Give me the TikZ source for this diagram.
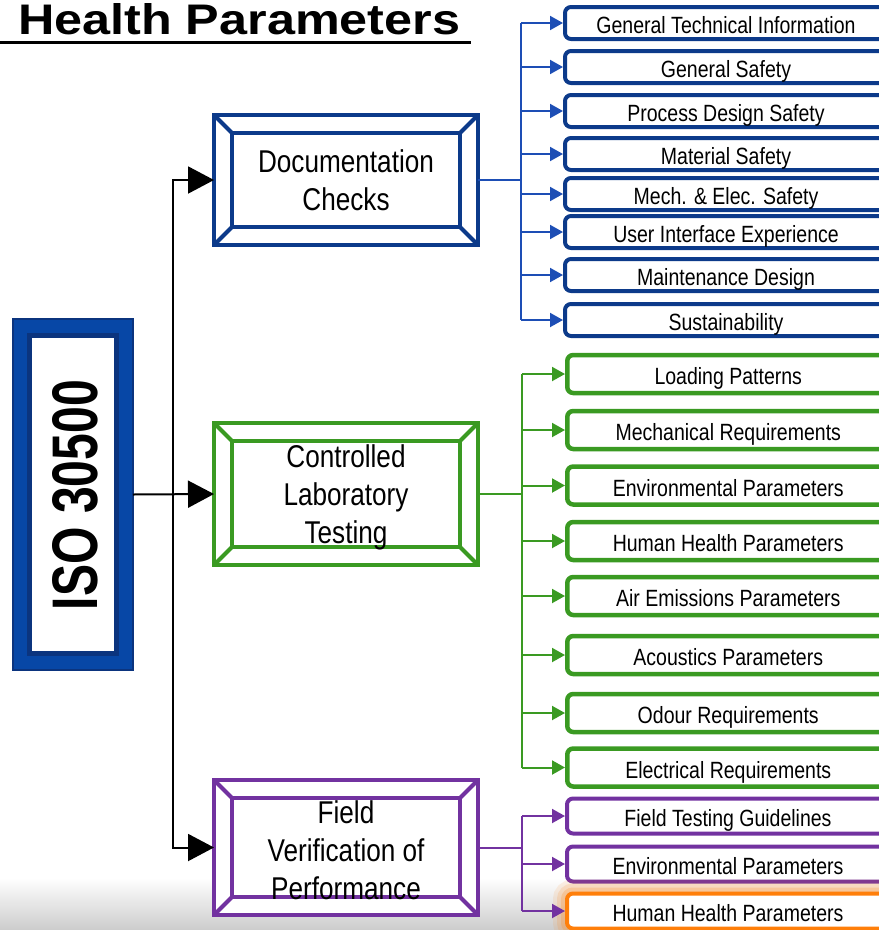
\documentclass[tikz,border=0pt]{standalone}
\usepackage{fontspec}
\setmainfont{Liberation Sans}
\newfontfamily\cf{Liberation Sans}[FakeStretch=0.83]
\usetikzlibrary{arrows.meta,calc}

\definecolor{navy}{HTML}{0C3A8A}
\definecolor{linkblue}{HTML}{1D4EB5}
\definecolor{isoblue}{HTML}{0747A6}
\definecolor{isonavy}{HTML}{0B347E}
\definecolor{leafgreen}{HTML}{3A9A22}
\definecolor{leafpurple}{HTML}{7232A0}
\definecolor{hiorange}{HTML}{FF7F0A}

\begin{document}
\begin{tikzpicture}[x=1pt,y=-1pt,
  frame/.style={draw=#1, line width=4pt, fill=white, minimum width=264pt,
    inner sep=0pt, outer sep=0pt, line join=miter},
  framein/.style={draw=#1, line width=4pt, line join=miter},
  frametext/.style={font=\cf\fontsize{31.5}{38}\selectfont, align=center, inner sep=0pt},
  leaf/.style={draw=#1, line width=4pt, fill=white, rounded corners=6pt,
    minimum width=322pt, anchor=west, inner sep=0pt, text height=21pt, text depth=0pt,
    font=\cf\fontsize{23.5}{28}\selectfont},
  link/.style={draw=#1, line width=2pt},
  linkarrow/.style={link=#1, -{Triangle[length=13pt,width=14pt]}},
  trunk/.style={draw=black, line width=2pt, line cap=rect},
  trunkarrow/.style={draw=black, line width=2pt, -{Triangle[length=26pt,width=27pt]}},
]
\useasboundingbox (0,0) rectangle (879,930);
\clip (0,0) rectangle (879,930);

% soft grey band along the lower edge
\shade[top color=white, bottom color=black!20] (0,878) rectangle (879,930);

% title
\node[anchor=base west, inner sep=0pt] (title) at (18,34)
  {\resizebox{442pt}{31pt}{\bfseries\cf Health Parameters}};
\draw[line width=3pt] (0,42) -- (471,42);

% standard box on the left
\node[draw=isonavy, fill=isoblue, line width=1.5pt, minimum width=120pt,
  minimum height=351pt, inner sep=0pt, outer sep=0pt] (iso) at (73,494.5) {};
\draw[draw=isonavy, fill=white, line width=5pt]
  ($(iso.north west)+(16.5,16.5)$) rectangle ($(iso.south east)+(-16.5,-16.5)$);
\node[rotate=90, inner sep=0pt] (isolabel) at (75.5,495)
  {\resizebox{230pt}{45pt}{\bfseries ISO 30500}};

% three bevelled category frames
\node[frame=navy, minimum height=130pt] (doc) at (346,180) {};
\node[frame=leafgreen, minimum height=142pt] (ctl) at (346,494) {};
\node[frame=leafpurple, minimum height=135pt] (fld) at (346,847.5) {};
\foreach \f/\c in {doc/navy, ctl/leafgreen, fld/leafpurple}{
  \coordinate (\f-inw) at ($(\f.north west)+(18,18)$);
  \coordinate (\f-ine) at ($(\f.north east)+(-18,18)$);
  \coordinate (\f-isw) at ($(\f.south west)+(18,-18)$);
  \coordinate (\f-ise) at ($(\f.south east)+(-18,-18)$);
  \draw[framein=\c] (\f-inw) rectangle (\f-ise);
  \draw[framein=\c] (\f.north west) -- (\f-inw)
                    (\f.north east) -- (\f-ine)
                    (\f.south west) -- (\f-isw)
                    (\f.south east) -- (\f-ise);
}
\node[frametext] (doctext) at (346,180) {Documentation\\Checks};
\node[frametext] (ctltext) at (346,497.5) {Controlled\\Laboratory\\Testing};
\node[frametext] (fldtext) at (346,850) {Field\\Verification of\\Performance};

% black spine from the standard to the frames
\coordinate (spine) at (173,494);
\draw[trunk] (spine |- doc.west) -- (spine |- fld.west);
\draw[trunkarrow] (spine |- doc.west) -- (doc.west);
\draw[trunkarrow] (iso.east) -- (ctl.west);
\draw[trunkarrow] (spine |- fld.west) -- (fld.west);

% documentation checks
\foreach \i/\y/\t in {
  1/23/General Technical Information,
  2/67/General Safety,
  3/111/Process Design Safety,
  4/154/Material Safety,
  5/194/Mech. \& Elec. Safety,
  6/232/User Interface Experience,
  7/275/Maintenance Design,
  8/320/Sustainability}{
  \node[leaf=navy, minimum height=32pt] (b\i) at (563,\y) {\t};
}

% laboratory testing
\foreach \i/\y/\t in {
  1/374/Loading Patterns,
  2/430/Mechanical Requirements,
  3/485.5/Environmental Parameters,
  4/541/Human Health Parameters,
  5/596/Air Emissions Parameters,
  6/655/Acoustics Parameters,
  7/713/Odour Requirements,
  8/767.5/Electrical Requirements}{
  \node[leaf=leafgreen, minimum height=38pt, line width=4.5pt] (g\i) at (565,\y) {\t};
}

% field verification
\node[leaf=leafpurple, minimum height=35pt] (p1) at (565,816) {Field Testing Guidelines};
\node[leaf=leafpurple, minimum height=35pt] (p2) at (565,864) {Environmental Parameters};
\node[leaf=hiorange, minimum height=35pt,
  preaction={draw=hiorange, line width=28pt, opacity=0.10},
  preaction={draw=hiorange, line width=20pt, opacity=0.14},
  preaction={draw=hiorange, line width=12pt, opacity=0.20}] (p3) at (565,911)
  {Human Health Parameters};

% branch connectors
\coordinate (bspine) at (521,180);
\coordinate (gspine) at (522,494);
\coordinate (pspine) at (522,847.5);
\draw[link=linkblue] (doc.east) -- (bspine);
\draw[link=linkblue] (bspine |- b1.west) -- (bspine |- b8.west);
\foreach \i in {1,...,8}{
  \draw[linkarrow=linkblue] (bspine |- b\i.west) -- (b\i.west);
}
\draw[link=leafgreen] (ctl.east) -- (gspine);
\draw[link=leafgreen] (gspine |- g1.west) -- (gspine |- g8.west);
\foreach \i in {1,...,8}{
  \draw[linkarrow=leafgreen] (gspine |- g\i.west) -- (g\i.west);
}
\draw[link=leafpurple] (fld.east) -- (pspine);
\draw[link=leafpurple] (pspine |- p1.west) -- (pspine |- p3.west);
\foreach \i in {1,2,3}{
  \draw[linkarrow=leafpurple] (pspine |- p\i.west) -- (p\i.west);
}
\end{tikzpicture}
\end{document}
